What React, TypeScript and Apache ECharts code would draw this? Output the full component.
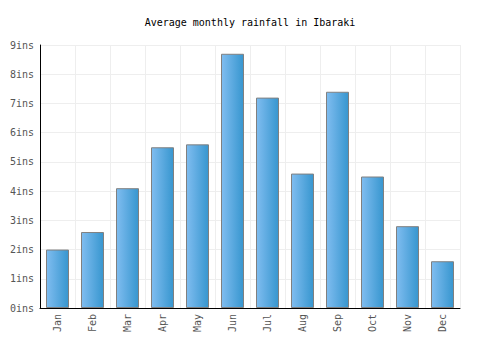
import React, { useEffect, useRef } from "react";
import * as echarts from "echarts";

const months = ["Jan", "Feb", "Mar", "Apr", "May", "Jun", "Jul", "Aug", "Sep", "Oct", "Nov", "Dec"];
const rainfall = [2.0, 2.6, 4.1, 5.5, 5.6, 8.7, 7.2, 4.6, 7.4, 4.5, 2.8, 1.6];
const titleText = "Average monthly rainfall in Ibaraki";
const unit = "ins";

export default function App() {
  const ref = useRef<HTMLDivElement>(null);
  useEffect(() => {
    document.body.style.margin = "0";
    const chart = echarts.init(ref.current!, null, { renderer: "svg" });
    const font = "'DejaVu Sans Mono', monospace";
    chart.setOption({
      animation: false,
      backgroundColor: "#fff",
      title: {
        text: titleText,
        left: "center",
        top: 12,
        textStyle: { fontFamily: font, fontSize: 10, fontWeight: "normal", color: "#000" },
      },
      grid: { left: 40, right: 40, top: 45, bottom: 42 },
      xAxis: {
        type: "category",
        data: months,
        axisLine: { lineStyle: { color: "#000", width: 1 } },
        axisTick: { show: false },
        axisLabel: { rotate: 90, color: "#555", fontFamily: font, fontSize: 10, margin: 6 },
        splitLine: { show: true, lineStyle: { color: "#eee" } },
      },
      yAxis: {
        type: "value",
        min: 0,
        max: 9,
        interval: 1,
        axisLine: { show: true, lineStyle: { color: "#000", width: 1 } },
        axisTick: { show: false },
        axisLabel: { color: "#555", fontFamily: font, fontSize: 10, margin: 6, formatter: (v: number) => v + unit },
        splitLine: { lineStyle: { color: "#eee" } },
      },
      series: [
        {
          type: "bar",
          data: rainfall,
          barWidth: 23,
          itemStyle: {
            color: new echarts.graphic.LinearGradient(0, 0, 1, 0, [
              { offset: 0, color: "#80bdf0" },
              { offset: 1, color: "#3796cf" },
            ]),
            borderColor: "#808080",
            borderWidth: 1,
          },
        },
      ],
    });
    return () => chart.dispose();
  }, []);
  return <div ref={ref} style={{ width: 500, height: 350 }} />;
}
